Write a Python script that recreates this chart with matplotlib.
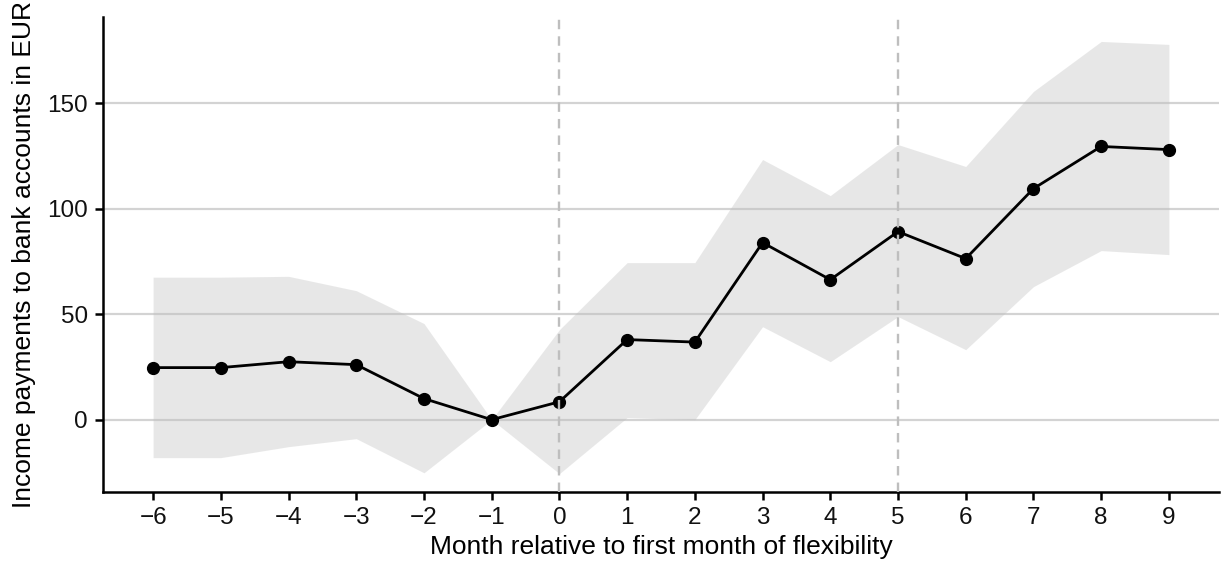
import matplotlib
matplotlib.use("Agg")
import matplotlib.pyplot as plt

plt.rcParams['font.family'] = ['Liberation Sans', 'DejaVu Sans']

months = [-6, -5, -4, -3, -2, -1, 0, 1, 2, 3, 4, 5, 6, 7, 8, 9]
estimate = [24.7, 24.7, 27.5, 26.1, 10.0, 0.0, 8.5, 38.0, 36.8, 84.0, 66.4, 89.2, 76.4, 109.6, 129.6, 128.1]
ci_upper = [67.6, 67.6, 68.0, 61.2, 45.6, 0.0, 42.7, 74.5, 74.5, 123.4, 106.3, 130.5, 120.1, 155.7, 179.4, 178.0]
ci_lower = [-18.0, -18.0, -12.8, -9.0, -25.2, 0.0, -25.6, 1.0, 0.0, 44.1, 27.5, 48.9, 33.2, 63.1, 80.2, 78.3]
event_lines = [0, 5]
y_ticks = [0, 50, 100, 150]

fig = plt.figure(figsize=(12.25, 5.81), dpi=100)
ax = fig.add_axes([103/1225, 1 - 492/581, (1219 - 103)/1225, (492 - 17)/581])

for yt in y_ticks:
    ax.axhline(yt, color='#d3d3d3', lw=1.6, zorder=1)

ax.fill_between(months, ci_lower, ci_upper, color='#bdbdbd', alpha=0.35, lw=0, zorder=2)
ax.plot(months, estimate, color='black', lw=2.0, marker='o', markersize=8.5, zorder=3)

for xv in event_lines:
    ax.axvline(xv, color='#bebebe', lw=1.7, ls=(0, (4, 3)), zorder=4)

ax.set_xlim(-6.74, 9.74)
ax.set_ylim(-34.3, 191)
ax.set_xticks(months)
ax.set_xticklabels([str(m).replace('-', '\u2212') for m in months])
ax.set_yticks(y_ticks)

for s in ['top', 'right']:
    ax.spines[s].set_visible(False)
for s in ['left', 'bottom']:
    ax.spines[s].set_linewidth(1.8)
    ax.spines[s].set_color('black')

ax.tick_params(axis='both', direction='out', length=6, width=1.8, color='black',
               labelsize=17.5, labelcolor='#111111', pad=5)

ax.set_xlabel('Month relative to first month of flexibility', fontsize=19, color='black', labelpad=4)
ax.set_ylabel('Income payments to bank accounts in EUR', fontsize=19, color='black', labelpad=8)

fig.savefig('out.png', dpi=100)
